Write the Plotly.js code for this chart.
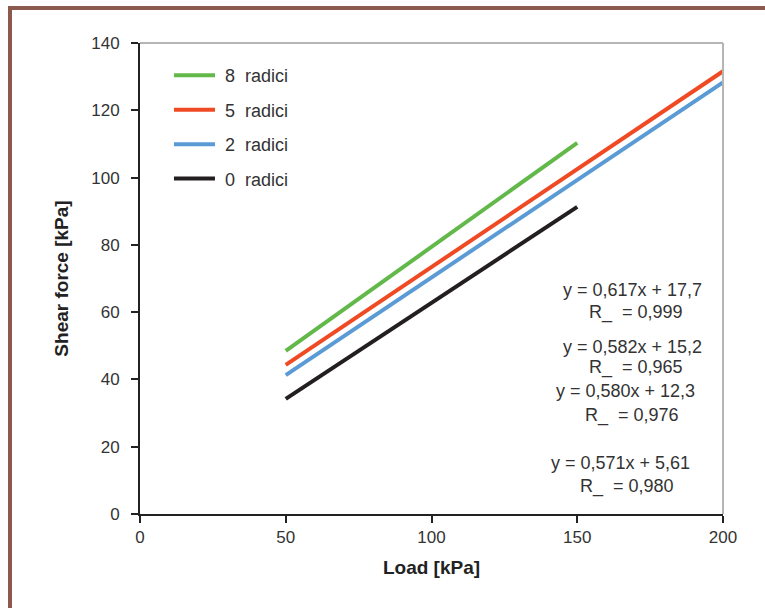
<!DOCTYPE html>
<html><head><meta charset="utf-8">
<script src="https://cdn.plot.ly/plotly-3.0.1.min.js"></script>
<style>
html,body{margin:0;padding:0;background:#fff;overflow:hidden;}
#frame{position:absolute;left:8px;top:6px;width:800px;height:620px;border-left:4px solid #8c5a4c;border-top:4px solid #8c5a4c;}
#chart{position:absolute;left:0;top:0;width:765px;height:608px;}
</style></head>
<body>
<div id="frame"></div>
<div id="chart"></div>
<script>
const seriesNames = ["8  radici", "5  radici", "2  radici", "0  radici"];
const seriesColors = ["#62b94a", "#ef4a24", "#5a9bd5", "#231f20"];
const loadX = [[50, 150], [50, 200], [50, 200], [50, 150]];
const shearY = [[48.5, 110.3], [44.3, 131.6], [41.3, 128.3], [34.2, 91.3]];
const eqLabels = ["y = 0,617x + 17,7", "y = 0,582x + 15,2", "y = 0,580x + 12,3", "y = 0,571x + 5,61"];
const r2Labels = ["R_ = 0,999", "R_ = 0,965", "R_ = 0,976", "R_ = 0,980"];
const xTicks = [0, 50, 100, 150, 200];
const yTicks = [0, 20, 40, 60, 80, 100, 120, 140];

const FONT = 'Liberation Sans, Arial, sans-serif';
const traces = seriesNames.map((n, i) => ({
  x: loadX[i], y: shearY[i], type: 'scatter', mode: 'lines',
  name: '\u00a0' + n.replace('  ', '\u00a0 '),
  legendgroup: 'g' + i,
  line: {color: seriesColors[i], width: 4}
}));

const eqPos = [[169.1, 66.6], [169.1, 49.6], [166.4, 36.6], [164.7, 15.2]];
const rPos = [[170.1, 60.0], [170.1, 43.4], [168.8, 29.4], [167.1, 8.3]];
const annotations = [];
eqLabels.forEach((t, i) => {
  annotations.push({x: eqPos[i][0], y: eqPos[i][1], xref: 'x', yref: 'y', text: t, showarrow: false,
    font: {family: FONT, size: 18, color: '#333'}});
  annotations.push({x: rPos[i][0], y: rPos[i][1], xref: 'x', yref: 'y', text: r2Labels[i].replace('_ ', '_\u00a0 '), showarrow: false,
    font: {family: FONT, size: 18, color: '#333'}});
});

const layout = {
  width: 765, height: 608,
  margin: {l: 140, r: 42, t: 43, b: 94},
  paper_bgcolor: 'rgba(0,0,0,0)', plot_bgcolor: 'rgba(0,0,0,0)',
  font: {family: FONT, size: 17, color: '#333'},
  showlegend: true,
  legend: {x: 0.0497, y: 0.97, xanchor: 'left', yanchor: 'top', bgcolor: 'rgba(0,0,0,0)',
    tracegroupgap: 8, itemwidth: 41, font: {size: 18, color: '#333'}},
  xaxis: {range: [0, 200], tickvals: xTicks, showgrid: false, zeroline: false,
    showline: true, linecolor: '#222', linewidth: 2, ticks: 'outside', ticklen: 7, tickwidth: 2, tickcolor: '#222',
    tickfont: {size: 17, color: '#333'}, ticklabelstandoff: 0,
    title: {text: '<b>Load [kPa]</b>', font: {size: 19, color: '#222'}, standoff: 14}},
  yaxis: {range: [0, 140], tickvals: yTicks, showgrid: false, zeroline: false,
    showline: true, linecolor: '#222', linewidth: 2, ticks: 'outside', ticklen: 7, tickwidth: 2, tickcolor: '#222',
    tickfont: {size: 17, color: '#333'}, ticklabelstandoff: 8,
    title: {text: '<b>Shear force [kPa]</b>', font: {size: 19, color: '#222'}, standoff: 18}},
  shapes: [
    {type: 'line', xref: 'paper', yref: 'paper', x0: 0, x1: 1, y0: 1, y1: 1, line: {color: '#b5b5b5', width: 2}},
    {type: 'line', xref: 'paper', yref: 'paper', x0: 1, x1: 1, y0: 0, y1: 1, line: {color: '#b5b5b5', width: 2}}
  ],
  annotations: annotations
};
Plotly.newPlot('chart', traces, layout, {displayModeBar: false, staticPlot: true});
</script>
</body></html>
